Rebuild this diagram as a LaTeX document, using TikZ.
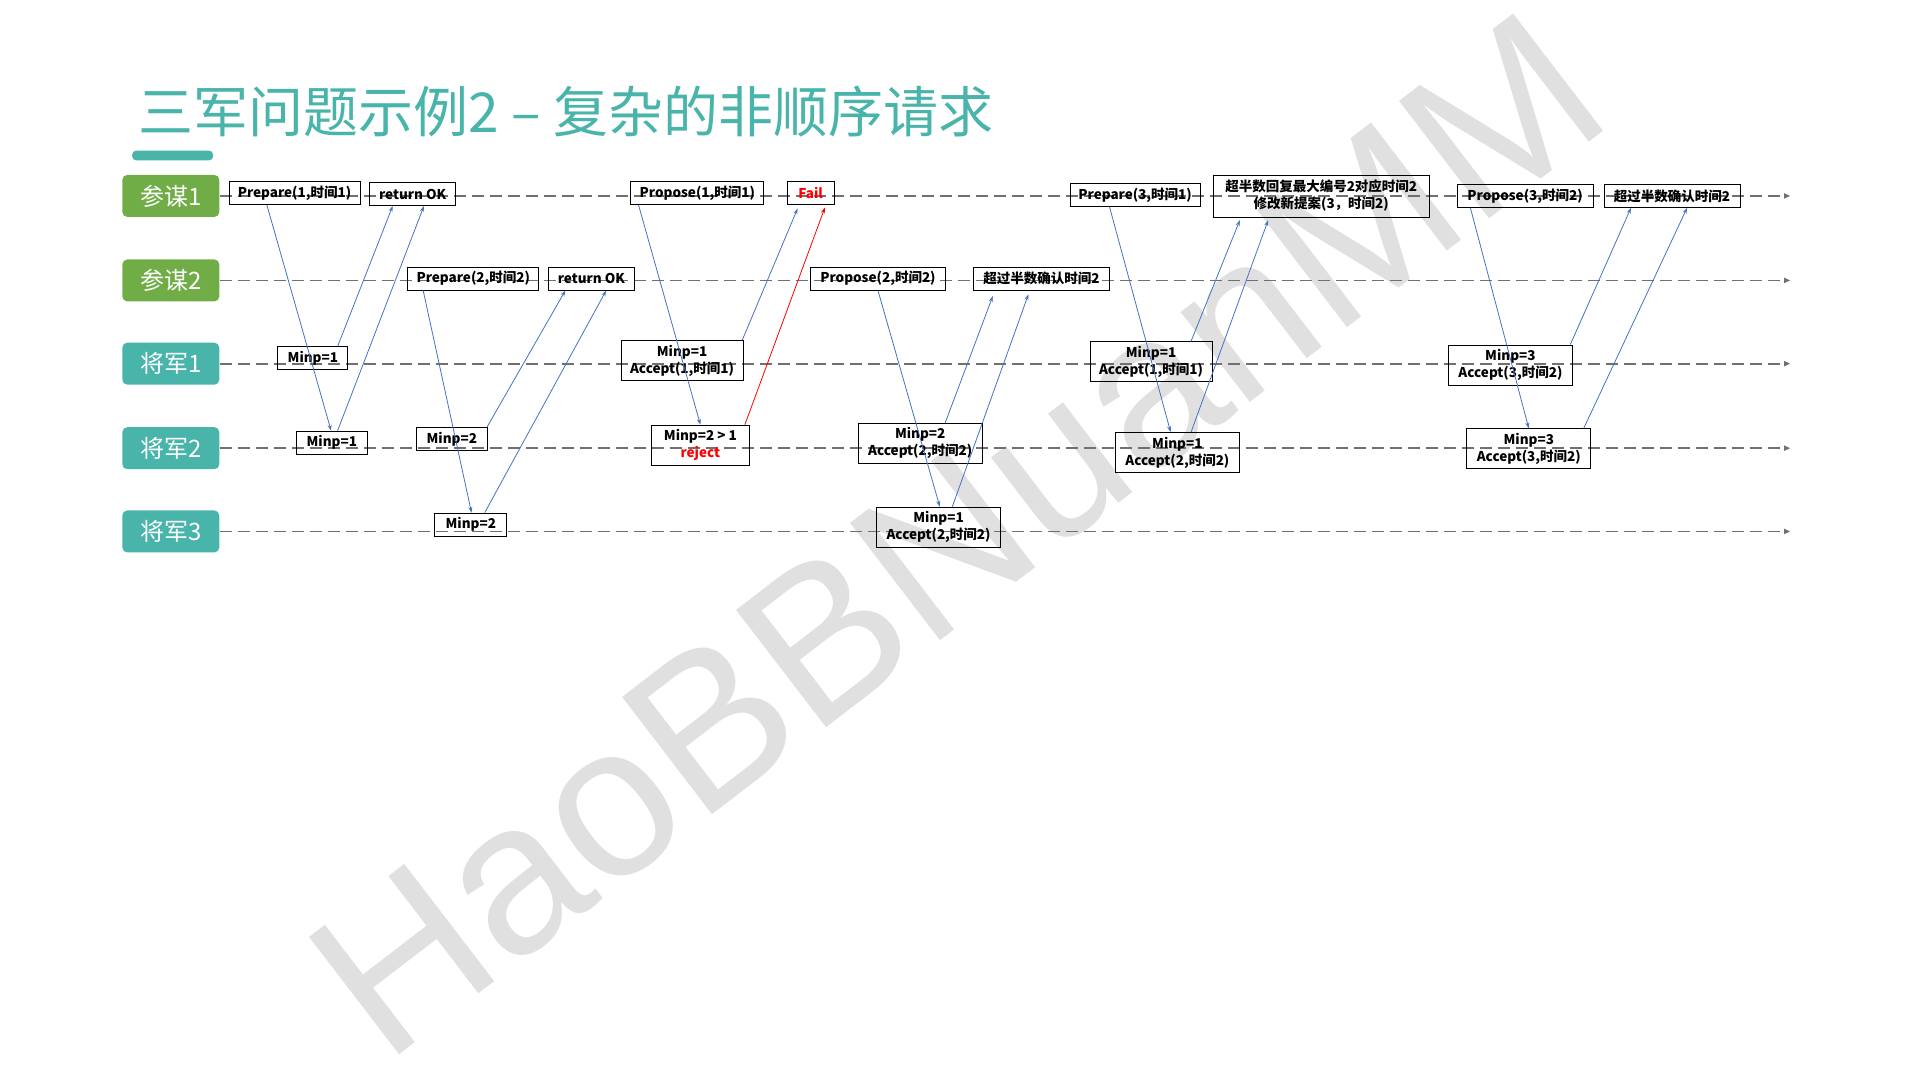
\documentclass[tikz,border=0pt]{standalone}
\usepackage{fontspec}
\setmainfont{Noto Sans CJK SC}
\newfontfamily\wmfont{Liberation Sans}
\usetikzlibrary{arrows.meta,calc}
\definecolor{mouGreen}{RGB}{112,173,71}
\definecolor{genTeal}{RGB}{72,180,170}
\definecolor{msgBlue}{RGB}{68,114,196}
\definecolor{laneGray}{RGB}{112,112,112}

\begin{document}
\begin{tikzpicture}[
  x=1.2245pt, y=-1.2245pt,
  every node/.style={font=\bfseries\fontsize{13.5}{17}\selectfont},
  role/.style={rounded corners=5pt, minimum width=97pt, minimum height=42pt,
    inner sep=0pt, text=white, font=\fontsize{24}{26}\selectfont},
  mou/.style={role, fill=mouGreen},
  gen/.style={role, fill=genTeal},
  lane/.style={laneGray, line width=1.8pt, dash pattern=on 12pt off 6pt,
    -{Triangle[length=6pt, width=5pt]}},
  msg/.style={draw, line width=0.8pt, inner xsep=2pt, inner ysep=0pt,
    minimum height=23pt, align=center},
  msgtwo/.style={msg, minimum height=40pt},
  call/.style={msgBlue, line width=0.8pt, -{Stealth[length=6pt, width=4pt]}},
  failcall/.style={call, red}
]
\useasboundingbox (0,0) rectangle (1568,882);

% Watermark behind everything.
\node[rotate=37.5, text=black!12, font=\wmfont\fontsize{215}{215}\selectfont]
  (mark) at (782,437) {HaoBBNuanMM};

% Title and bar.
\node[anchor=west, inner sep=0pt, text=genTeal, font=\fontsize{55}{60}\selectfont]
  (title) at (113,91) {三军问题示例2 – 复杂的非顺序请求};
\fill[genTeal, rounded corners=4pt] (108,123) rectangle (174,131);

% Roles and their time lines.
\node[mou] (pm1) at (139.5,160) {参谋1};
\node[mou] (pm2) at (139.5,229) {参谋2};
\node[gen] (jj1) at (139.5,297) {将军1};
\node[gen] (jj2) at (139.5,366) {将军2};
\node[gen] (jj3) at (139.5,434) {将军3};
\coordinate (pm1end) at (1462,160);
\coordinate (pm2end) at (1462,229);
\coordinate (jj1end) at (1462,297);
\coordinate (jj2end) at (1462,366);
\coordinate (jj3end) at (1462,434);
\draw[lane] (pm1) -- (pm1end);
\draw[lane] (pm2) -- (pm2end);
\draw[lane] (jj1) -- (jj1end);
\draw[lane] (jj2) -- (jj2end);
\draw[lane] (jj3) -- (jj3end);

% Messages of 参谋1.
\node[msg, minimum width=131pt] (p1prep) at (240.5,157.5) {Prepare(1,时间1)};
\node[msg, minimum width=86pt] (p1ok) at (337,158.5) {return OK};
\node[msg, minimum width=133pt] (p1prop) at (569.5,157.5) {Propose(1,时间1)};
\node[msg, minimum width=47pt, text=red] (p1fail) at (662,157.5) {Fail};
\node[msg, minimum width=130pt] (p1prep3) at (927,159.5) {Prepare(3,时间1)};
\node[msgtwo, minimum width=216pt, minimum height=42pt] (p1big) at (1079,160)
  {超半数回复最大编号2对应时间2\\修改新提案(3，时间2)};
\node[msg, minimum width=136pt] (p1prop3) at (1245.5,160) {Propose(3,时间2)};
\node[msg, minimum width=136pt] (p1conf) at (1365.5,160) {超过半数确认时间2};

% Messages of 参谋2.
\node[msg, minimum width=131pt] (p2prep) at (386.5,227.5) {Prepare(2,时间2)};
\node[msg, minimum width=86pt] (p2ok) at (483,227.5) {return OK};
\node[msg, minimum width=135pt] (p2prop) at (717,227.5) {Propose(2,时间2)};
\node[msg, minimum width=136pt] (p2conf) at (850.5,227.5) {超过半数确认时间2};

% States of the generals.
\node[msg, minimum width=70pt] (g1a) at (255.5,292.5) {Minp=1};
\node[msgtwo, minimum width=122pt] (g1b) at (557,294.5) {Minp=1\\Accept(1,时间1)};
\node[msgtwo, minimum width=122pt] (g1c) at (940,295.5) {Minp=1\\Accept(1,时间1)};
\node[msgtwo, minimum width=124pt] (g1d) at (1233.5,298) {Minp=3\\Accept(3,时间2)};
\node[msg, minimum width=71pt] (g2a) at (271,361.5) {Minp=1};
\node[msg, minimum width=71pt] (g2b) at (369,358.5) {Minp=2};
\node[msgtwo, minimum width=98pt] (g2c) at (572,363.5)
  {Minp=2 > 1\\\textcolor{red}{reject}};
\node[msgtwo, minimum width=124pt] (g2d) at (751.5,362) {Minp=2\\Accept(2,时间2)};
\node[msgtwo, minimum width=124pt] (g2e) at (961.5,369.5) {Minp=1\\Accept(2,时间2)};
\node[msgtwo, minimum width=124pt] (g2f) at (1248.5,366.5) {Minp=3\\Accept(3,时间2)};
\node[msg, minimum width=72pt] (g3a) at (384.5,428.5) {Minp=2};
\node[msgtwo, minimum width=124pt] (g3b) at (766.5,430.5) {Minp=1\\Accept(2,时间2)};

% Round 1: prepare and propose of 参谋1.
\draw[call] ($(p1prep.south west)!.29!(p1prep.south east)$)
  -- ($(g2a.north west)!.49!(g2a.north east)$);
\draw[call] ($(g1a.north west)!.85!(g1a.north east)$)
  -- ($(p1ok.south west)!.27!(p1ok.south east)$);
\draw[call] ($(g2a.north west)!.58!(g2a.north east)$)
  -- ($(p1ok.south west)!.63!(p1ok.south east)$);
\draw[call] ($(p2prep.south west)!.12!(p2prep.south east)$)
  -- ($(g3a.north west)!.51!(g3a.north east)$);
\draw[call] ($(g2b.north west)!.99!(g2b.north east)$)
  -- ($(p2ok.south west)!.2!(p2ok.south east)$);
\draw[call] ($(g3a.north west)!.69!(g3a.north east)$)
  -- ($(p2ok.south west)!.67!(p2ok.south east)$);
\draw[call] ($(p1prop.south west)!.06!(p1prop.south east)$)
  -- ($(g2c.north west)!.5!(g2c.north east)$);
\draw[call, shorten >=4pt] ($(g1b.north west)!.99!(g1b.north east)$)
  -- ($(p1fail.south west)!.26!(p1fail.south east)$);
\draw[failcall, shorten >=3pt] ($(g2c.north west)!.95!(g2c.north east)$)
  -- ($(p1fail.south west)!.82!(p1fail.south east)$);

% Round 2: propose of 参谋2.
\draw[call] ($(p2prop.south west)!.5!(p2prop.south east)$)
  -- ($(g3b.north west)!.51!(g3b.north east)$);
\draw[call, shorten >=6pt] ($(g2d.north west)!.7!(g2d.north east)$)
  -- ($(p2conf.south west)!.16!(p2conf.south east)$);
\draw[call, shorten >=4pt] ($(g3b.north west)!.61!(g3b.north east)$)
  -- ($(p2conf.south west)!.415!(p2conf.south east)$);

% Round 3: 参谋1 again.
\draw[call] ($(p1prep3.south west)!.305!(p1prep3.south east)$)
  -- ($(g2e.north west)!.446!(g2e.north east)$);
\draw[call, shorten >=3pt] ($(g1c.north west)!.825!(g1c.north east)$)
  -- ($(p1big.south west)!.13!(p1big.south east)$);
\draw[call, shorten >=3pt] ($(g2e.north west)!.61!(g2e.north east)$)
  -- ($(p1big.south west)!.26!(p1big.south east)$);
\draw[call] ($(p1prop3.south west)!.1!(p1prop3.south east)$)
  -- ($(g2f.north west)!.5!(g2f.north east)$);
\draw[call] ($(g1d.north west)!.98!(g1d.north east)$)
  -- ($(p1conf.south west)!.2!(p1conf.south east)$);
\draw[call] ($(g2f.north west)!.94!(g2f.north east)$)
  -- ($(p1conf.south west)!.61!(p1conf.south east)$);
\end{tikzpicture}
\end{document}
